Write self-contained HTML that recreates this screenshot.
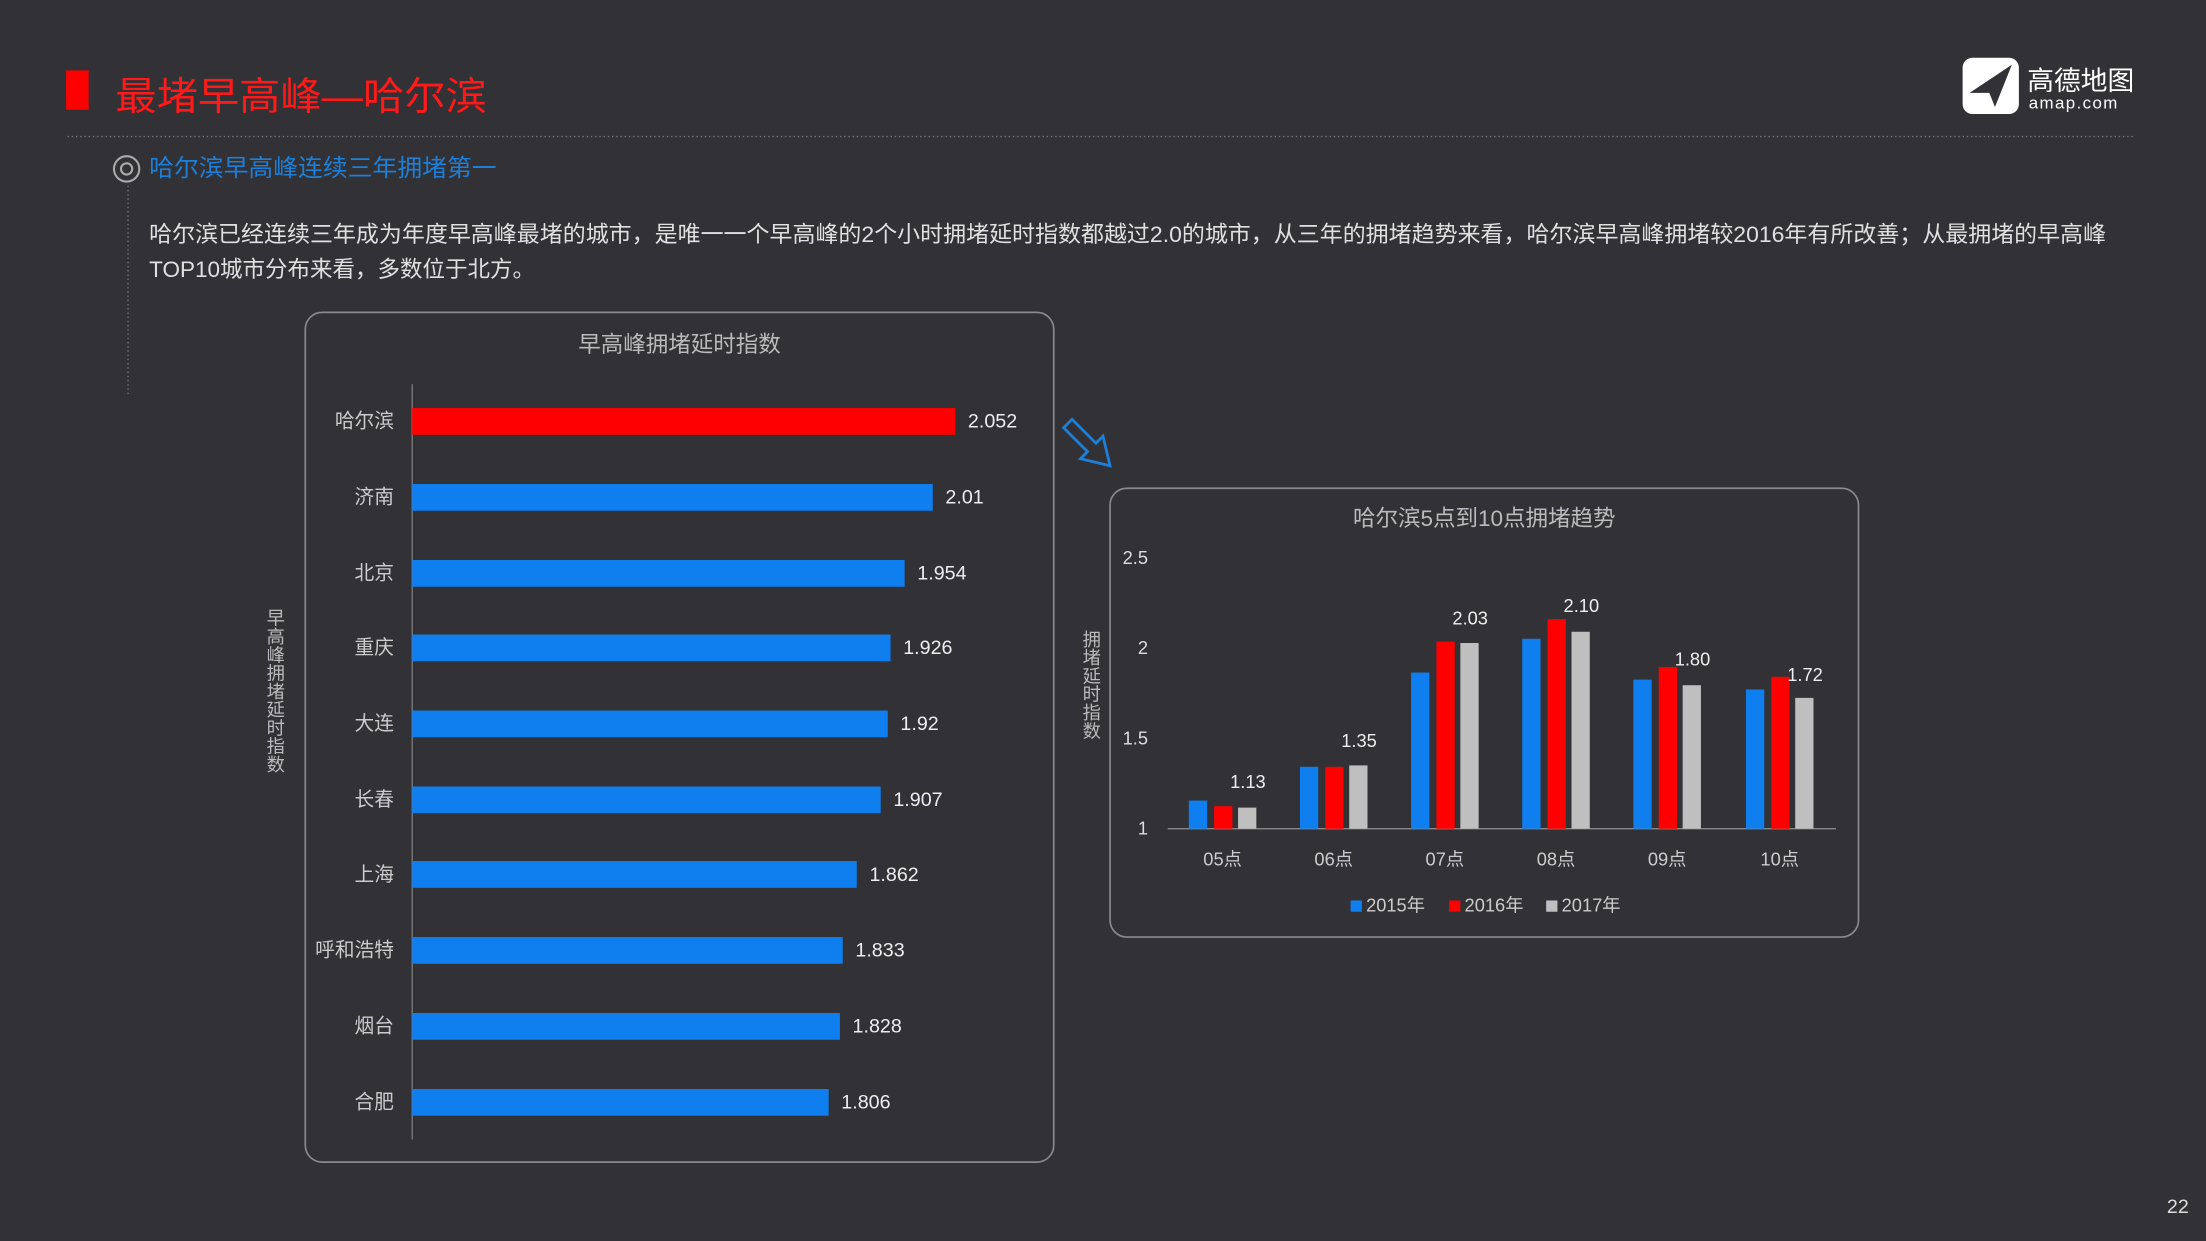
<!DOCTYPE html>
<html><head><meta charset="utf-8"><style>
html,body{margin:0;padding:0;background:#313136;}
svg{display:block}
text{font-family:"Liberation Sans","Noto Sans CJK SC",sans-serif;}
</style></head><body>
<svg width="2206" height="1241" viewBox="0 0 1568 882" xmlns="http://www.w3.org/2000/svg">
<rect width="1568" height="882" fill="#313136"/>
<rect x="47" y="50" width="16" height="28" fill="#ff0000"/>
<text x="82" y="78" font-size="28" fill="#ff1a1a" textLength="264" lengthAdjust="spacingAndGlyphs">最堵早高峰—哈尔滨</text>
<line x1="48" y1="97" x2="1518" y2="97" stroke="#777" stroke-dasharray="1,2"/>
<!-- logo -->
<rect x="1395" y="41" width="40" height="40" rx="7" fill="#fff"/>
<path d="M1400 66 L1430 46 L1418 76 L1414 66 Z" fill="#313136"/>
<text x="1441" y="64" font-size="19" fill="#fff">高德地图</text>
<text x="1442" y="77" font-size="12" fill="#fff" letter-spacing="1">amap.com</text>
<circle cx="90" cy="120" r="9" fill="none" stroke="#aaa" stroke-width="1.5"/>
<circle cx="90" cy="120" r="4" fill="none" stroke="#aaa" stroke-width="1.5"/>
<text x="106" y="125" font-size="17" fill="#1e7fd8" textLength="247" lengthAdjust="spacingAndGlyphs">哈尔滨早高峰连续三年拥堵第一</text>
<line x1="91" y1="132" x2="91" y2="280" stroke="#777" stroke-dasharray="1,2"/>
<text x="106" y="172" font-size="16" fill="#e0e0e0" textLength="1391" lengthAdjust="spacingAndGlyphs">哈尔滨已经连续三年成为年度早高峰最堵的城市，是唯一一个早高峰的2个小时拥堵延时指数都越过2.0的城市，从三年的拥堵趋势来看，哈尔滨早高峰拥堵较2016年有所改善；从最拥堵的早高峰</text>
<text x="106" y="197" font-size="16" fill="#e0e0e0">TOP10城市分布来看，多数位于北方。</text>

<!-- left panel -->
<rect x="217" y="222" width="532" height="604" rx="12" fill="none" stroke="#8a8a8a" stroke-width="1.2"/>
<text x="483" y="250" font-size="16" fill="#bbb" text-anchor="middle">早高峰拥堵延时指数</text>
<line x1="293" y1="273" x2="293" y2="810" stroke="#777"/>
<g font-size="14" fill="#ccc">
<rect x="293" y="290" width="386" height="19" fill="#ff0000"/><text x="280" y="304" text-anchor="end">哈尔滨</text><text x="688" y="304" fill="#eee">2.052</text>
<rect x="293" y="344" width="370" height="19" fill="#0f7ff0"/><text x="280" y="358" text-anchor="end">济南</text><text x="672" y="358" fill="#eee">2.01</text>
<rect x="293" y="398" width="350" height="19" fill="#0f7ff0"/><text x="280" y="412" text-anchor="end">北京</text><text x="652" y="412" fill="#eee">1.954</text>
<rect x="293" y="451" width="340" height="19" fill="#0f7ff0"/><text x="280" y="465" text-anchor="end">重庆</text><text x="642" y="465" fill="#eee">1.926</text>
<rect x="293" y="505" width="338" height="19" fill="#0f7ff0"/><text x="280" y="519" text-anchor="end">大连</text><text x="640" y="519" fill="#eee">1.92</text>
<rect x="293" y="559" width="333" height="19" fill="#0f7ff0"/><text x="280" y="573" text-anchor="end">长春</text><text x="635" y="573" fill="#eee">1.907</text>
<rect x="293" y="612" width="316" height="19" fill="#0f7ff0"/><text x="280" y="626" text-anchor="end">上海</text><text x="618" y="626" fill="#eee">1.862</text>
<rect x="293" y="666" width="306" height="19" fill="#0f7ff0"/><text x="280" y="680" text-anchor="end">呼和浩特</text><text x="608" y="680" fill="#eee">1.833</text>
<rect x="293" y="720" width="304" height="19" fill="#0f7ff0"/><text x="280" y="734" text-anchor="end">烟台</text><text x="606" y="734" fill="#eee">1.828</text>
<rect x="293" y="774" width="296" height="19" fill="#0f7ff0"/><text x="280" y="788" text-anchor="end">合肥</text><text x="598" y="788" fill="#eee">1.806</text>
</g>
<g font-size="13" fill="#bbb" text-anchor="middle">
<text x="196" y="444">早</text><text x="196" y="457">高</text><text x="196" y="470">峰</text><text x="196" y="483">拥</text><text x="196" y="496">堵</text><text x="196" y="509">延</text><text x="196" y="522">时</text><text x="196" y="535">指</text><text x="196" y="548">数</text>
</g>
<!-- arrow -->
<path d="M756 304 L762 298 L779 315 L784 310 L789 331 L768 326 L773 321 Z" fill="none" stroke="#1e7fd8" stroke-width="2"/>

<!-- right panel -->
<rect x="789" y="347" width="532" height="319" rx="12" fill="none" stroke="#8a8a8a" stroke-width="1.2"/>
<text x="1055" y="374" font-size="16" fill="#bbb" text-anchor="middle">哈尔滨5点到10点拥堵趋势</text>
<g font-size="13" fill="#ddd" text-anchor="end">
<text x="816" y="401">2.5</text><text x="816" y="465">2</text><text x="816" y="529">1.5</text><text x="816" y="593">1</text>
</g>
<g font-size="13" fill="#bbb" text-anchor="middle">
<text x="776" y="459">拥</text><text x="776" y="472">堵</text><text x="776" y="485">延</text><text x="776" y="498">时</text><text x="776" y="511">指</text><text x="776" y="524">数</text>
</g>
<line x1="830" y1="589" x2="1305" y2="589" stroke="#888"/>
<g>
<rect x="845" y="569" width="13" height="20" fill="#0f7ff0"/><rect x="863" y="573" width="13" height="16" fill="#ff0000"/><rect x="880" y="574" width="13" height="15" fill="#bfbfbf"/>
<rect x="924" y="545" width="13" height="44" fill="#0f7ff0"/><rect x="942" y="545" width="13" height="44" fill="#ff0000"/><rect x="959" y="544" width="13" height="45" fill="#bfbfbf"/>
<rect x="1003" y="478" width="13" height="111" fill="#0f7ff0"/><rect x="1021" y="456" width="13" height="133" fill="#ff0000"/><rect x="1038" y="457" width="13" height="132" fill="#bfbfbf"/>
<rect x="1082" y="454" width="13" height="135" fill="#0f7ff0"/><rect x="1100" y="440" width="13" height="149" fill="#ff0000"/><rect x="1117" y="449" width="13" height="140" fill="#bfbfbf"/>
<rect x="1161" y="483" width="13" height="106" fill="#0f7ff0"/><rect x="1179" y="474" width="13" height="115" fill="#ff0000"/><rect x="1196" y="487" width="13" height="102" fill="#bfbfbf"/>
<rect x="1241" y="490" width="13" height="99" fill="#0f7ff0"/><rect x="1259" y="481" width="13" height="108" fill="#ff0000"/><rect x="1276" y="496" width="13" height="93" fill="#bfbfbf"/>
</g>
<g font-size="13" fill="#eee" text-anchor="middle">
<text x="887" y="560">1.13</text><text x="966" y="531">1.35</text><text x="1045" y="444">2.03</text><text x="1124" y="435">2.10</text><text x="1203" y="473">1.80</text><text x="1283" y="484">1.72</text>
</g>
<g font-size="13" fill="#ccc" text-anchor="middle">
<text x="869" y="615">05点</text><text x="948" y="615">06点</text><text x="1027" y="615">07点</text><text x="1106" y="615">08点</text><text x="1185" y="615">09点</text><text x="1265" y="615">10点</text>
</g>
<g font-size="13" fill="#ccc">
<rect x="960" y="640" width="8" height="8" fill="#0f7ff0"/><text x="971" y="648">2015年</text>
<rect x="1030" y="640" width="8" height="8" fill="#ff0000"/><text x="1041" y="648">2016年</text>
<rect x="1099" y="640" width="8" height="8" fill="#bfbfbf"/><text x="1110" y="648">2017年</text>
</g>
<text x="1548" y="862" font-size="14" fill="#ddd" text-anchor="middle" font-family="Liberation Serif">22</text>
</svg>
</body></html>
